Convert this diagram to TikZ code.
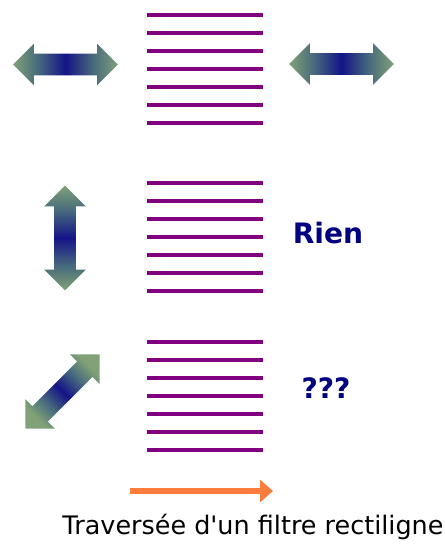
\documentclass[tikz,border=0pt]{standalone}
\usepackage{fontspec}
\setmainfont[Ligatures=TeXOff]{DejaVu Sans}
\usepackage{tikz}
\usetikzlibrary{arrows.meta,shapes.arrows}
\definecolor{polpurple}{RGB}{128,0,128}
\definecolor{polgreen}{RGB}{128,162,118}
\definecolor{polteal}{RGB}{70,105,125}
\definecolor{polnavy}{RGB}{20,20,135}
\definecolor{labelnavy}{RGB}{0,0,128}
\definecolor{beamorange}{RGB}{255,125,60}
\pgfdeclarehorizontalshading{polshade}{100bp}{color(0bp)=(polgreen); color(25bp)=(polgreen); color(37bp)=(polteal); color(50bp)=(polnavy); color(63bp)=(polteal); color(75bp)=(polgreen); color(100bp)=(polgreen)}
\tikzstyle{slit} = [line width=2pt, color=polpurple]
\tikzstyle{polar} = [double arrow, shading=polshade, minimum height=2.1cm, inner xsep=0pt, inner ysep=0.21cm, double arrow head extend=0.2cm]
\tikzstyle{answer} = [font=\bfseries\fontsize{16}{16}\selectfont, text=labelnavy]
\tikzstyle{beam} = [line width=0.12cm, color=beamorange, -{Triangle[length=0.26cm,width=0.44cm]}]

\begin{document}
\begin{tikzpicture}[x=0.02cm, y=-0.02cm]
\useasboundingbox (0,0) rectangle (445,544);

% Filters (three stacks of slits)
\foreach \top in {15,183,342}
  \foreach \k in {0,...,6}
    \draw[slit] (147,\top+18*\k) -- (263,\top+18*\k);

% Polarisation arrows
\node[polar] (inleft) at (65.5,64.5) {};
\node[polar] (outright) at (341.5,64) {};
\node[polar, rotate=90, shading angle=90] (invert) at (65,238) {};
\node[polar, rotate=45, shading angle=45] (indiag) at (62.5,391.5) {};

% Results
\node[answer] (rien) at (328,233) {Rien};
\node[answer] (unknown) at (326,388) {???};

% Direction of travel
\coordinate (beamstart) at (130,491);
\coordinate (beamend) at (273,491);
\draw[beam] (beamstart) -- (beamend);
\node[font=\fontsize{14.5}{14.5}\selectfont] (caption) at (253,527) {Traversée d'un filtre rectiligne};
\end{tikzpicture}
\end{document}
